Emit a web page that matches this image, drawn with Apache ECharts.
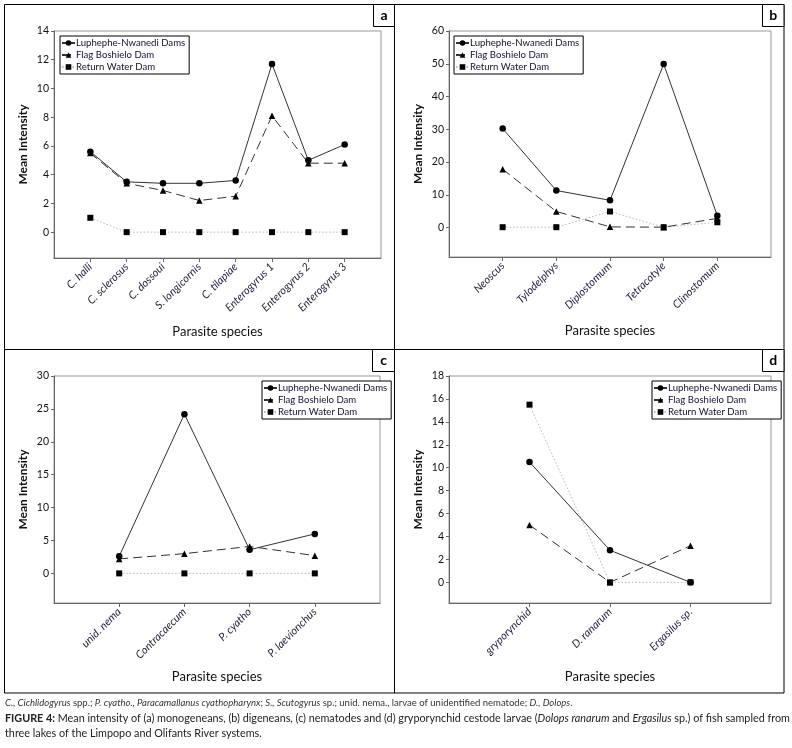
<!DOCTYPE html>
<html>
<head>
<meta charset="utf-8">
<script src="https://cdn.jsdelivr.net/npm/echarts@6/dist/echarts.min.js"></script>
<style>
html,body{margin:0;padding:0;background:#fff;}
#chart{width:792px;height:748px;}
</style>
</head>
<body>
<div id="chart"></div>
<script>
// ---- data ----
const seriesNames = ['Luphephe-Nwanedi Dams', 'Flag Boshielo Dam', 'Return Water Dam'];

const catsA = ['C. halli', 'C. sclerosus', 'C. dossoui', 'S. longicornis', 'C. tilapiae', 'Enterogyrus 1', 'Enterogyrus 2', 'Enterogyrus 3'];
const lupA  = [5.6, 3.5, 3.4, 3.4, 3.6, 11.7, 5.0, 6.1];
const flagA = [5.5, 3.4, 2.9, 2.2, 2.5, 8.1, 4.8, 4.8];
const retA  = [1.0, 0, 0, 0, 0, 0, 0, 0];
const ticksA = [0, 2, 4, 6, 8, 10, 12, 14];

const catsB = ['Neoscus', 'Tylodelphys', 'Diplostomum', 'Tetracotyle', 'Clinostomum'];
const lupB  = [30.2, 11.3, 8.3, 49.9, 3.6];
const flagB = [17.8, 4.9, 0.2, 0.1, 2.8];
const retB  = [0.1, 0.1, 4.9, 0.1, 1.6];
const ticksB = [0, 10, 20, 30, 40, 50, 60];

const catsC = ['unid. nema', 'Contracaecum', 'P. cyatho', 'P. laevionchus'];
const lupC  = [2.6, 24.2, 3.6, 6.0];
const flagC = [2.2, 3.0, 4.1, 2.7];
const retC  = [0, 0, 0, 0];
const ticksC = [0, 5, 10, 15, 20, 25, 30];

const catsD = ['gryporynchid', 'D. ranarum', 'Ergasilus sp.'];
const lupD  = [10.5, 2.8, 0];
const flagD = [5.0, 0, 3.2];
const retD  = [15.5, 0, 0];
const ticksD = [0, 2, 4, 6, 8, 10, 12, 14, 16, 18];

// ---- layout ----
const FONT = 'Lato, "Open Sans", sans-serif';
const panels = [
  {cats: catsA, vals: [lupA, flagA, retA], ticks: ticksA, ymin: -1.8, ymax: 14,
   grid: {left: 54, top: 31, width: 327, height: 227}, legend: {left: 60, top: 36}},
  {cats: catsB, vals: [lupB, flagB, retB], ticks: ticksB, ymin: -9, ymax: 60,
   grid: {left: 449, top: 31, width: 322, height: 226}, legend: {left: 454, top: 36}},
  {cats: catsC, vals: [lupC, flagC, retC], ticks: ticksC, ymin: -4.5, ymax: 30,
   grid: {left: 54, top: 376, width: 326, height: 227}, legend: {left: 262, top: 381}},
  {cats: catsD, vals: [lupD, flagD, retD], ticks: ticksD, ymin: -1.8, ymax: 18,
   grid: {left: 449, top: 376, width: 322, height: 227}, legend: {left: 652, top: 381}}
];

const seriesStyle = [
  {symbol: 'circle', symbolSize: 6.5, line: {color: '#333', width: 1, type: 'solid'}},
  {symbol: 'triangle', symbolSize: 6.5, line: {color: '#333', width: 1, type: [9, 5]}},
  {symbol: 'rect', symbolSize: 6, line: {color: '#b8b8b8', width: 1, type: [1.5, 2]}}
];

const grids = [], xAxes = [], yAxes = [], series = [], legends = [];
panels.forEach((p, k) => {
  grids.push(Object.assign({show: true, borderColor: '#999', borderWidth: 1, backgroundColor: 'transparent'}, p.grid));
  const idx = p.cats.map((c, i) => i);
  xAxes.push({
    type: 'value', gridIndex: k, min: -1, max: p.cats.length,
    name: 'Parasite species', nameLocation: 'middle', nameGap: 67,
    nameTextStyle: {fontFamily: FONT, fontSize: 13, color: '#111'},
    axisLine: {show: true, onZero: false, lineStyle: {color: '#666', width: 1}},
    axisTick: {show: true, length: 4, customValues: idx, lineStyle: {color: '#666'}},
    splitLine: {show: false},
    axisLabel: {
      customValues: idx, rotate: 45, margin: 7,
      fontFamily: FONT, fontSize: 11, fontStyle: 'italic', color: '#1d1d3a',
      formatter: v => p.cats[Math.round(v)] || ''
    }
  });
  yAxes.push({
    type: 'value', gridIndex: k, min: p.ymin, max: p.ymax,
    name: 'Mean Intensity', nameLocation: 'middle', nameGap: 25, nameRotate: 90,
    nameTextStyle: {fontFamily: FONT, fontSize: 12, fontWeight: 'bold', color: '#111'},
    axisLine: {show: true, onZero: false, lineStyle: {color: '#666', width: 1}},
    axisTick: {show: true, length: 3, inside: false, customValues: p.ticks, lineStyle: {color: '#666'}},
    splitLine: {show: false},
    axisLabel: {customValues: p.ticks, margin: 5, fontFamily: FONT, fontSize: 10.5, color: '#111'}
  });
  p.vals.forEach((vals, s) => {
    const st = seriesStyle[s];
    series.push({
      type: 'line', name: seriesNames[s], xAxisIndex: k, yAxisIndex: k,
      data: vals.map((v, i) => [i, v]),
      symbol: st.symbol, symbolSize: st.symbolSize, showSymbol: true,
      lineStyle: st.line, itemStyle: {color: '#000', borderWidth: 0},
      z: 5 - s, animation: false, emphasis: {disabled: true}
    });
  });
  legends.push({
    left: p.legend.left, top: p.legend.top, orient: 'vertical',
    data: seriesNames, selectedMode: false,
    backgroundColor: '#fff', borderColor: '#000', borderWidth: 1, borderRadius: 0,
    padding: [2, 4, 2, 1], itemGap: 2, itemWidth: 13, itemHeight: 7,
    textStyle: {fontFamily: FONT, fontSize: 9.6, color: '#111133', padding: [0, 0, 0, -4]}
  });
});

const letterBox = (x, y, w, h, t) => ([
  {type: 'rect', shape: {x: x, y: y, width: w, height: h}, style: {fill: '#fff', stroke: '#000', lineWidth: 1}, z: 100},
  {type: 'text', x: x + w / 2, y: y + h / 2, style: {text: t, fontFamily: FONT, fontSize: 14, fontWeight: 'bold', fill: '#000', align: 'center', verticalAlign: 'middle'}, z: 101}
]);

const capStyle = {
  n: {fontFamily: FONT, fontSize: 9.5, fill: '#333'},
  i: {fontFamily: FONT, fontSize: 9.5, fontStyle: 'italic', fill: '#333'}
};
const capStyle2 = {
  n: {fontFamily: FONT, fontSize: 10.8, fill: '#222'},
  i: {fontFamily: FONT, fontSize: 10.8, fontStyle: 'italic', fill: '#222'},
  b: {fontFamily: FONT, fontSize: 10.8, fontWeight: 'bold', fill: '#222'}
};

const graphic = [
  {type: 'rect', shape: {x: 4.5, y: 4.5, width: 779.5, height: 688.5}, style: {fill: 'none', stroke: '#000', lineWidth: 1}, z: 99},
  {type: 'line', shape: {x1: 394.5, y1: 4.5, x2: 394.5, y2: 693}, style: {stroke: '#000', lineWidth: 1}, z: 99},
  {type: 'line', shape: {x1: 4.5, y1: 349.5, x2: 784, y2: 349.5}, style: {stroke: '#000', lineWidth: 1}, z: 99},
  ...letterBox(373.5, 4.5, 21, 22, 'a'),
  ...letterBox(762.5, 4.5, 21.5, 22, 'b'),
  ...letterBox(372.5, 349.5, 22, 22, 'c'),
  ...letterBox(762.5, 349.5, 21.5, 22, 'd'),
  {type: 'text', x: 5, y: 703, style: {
    text: '{i|C., Cichlidogyrus}{n| spp.; }{i|P. cyatho., Paracamallanus cyathopharynx}{n|; }{i|S., Scutogyrus}{n| sp.; unid. nema., larvae of unidentified nematode; }{i|D., Dolops}{n|.}',
    rich: capStyle, verticalAlign: 'middle', fontFamily: FONT, fontSize: 9.5}},
  {type: 'text', x: 5, y: 719, style: {
    text: '{b|FIGURE 4:}{n| Mean intensity of (a) monogeneans, (b) digeneans, (c) nematodes and (d) gryporynchid cestode larvae (}{i|Dolops ranarum}{n| and }{i|Ergasilus}{n| sp.) of fish sampled from}',
    rich: capStyle2, verticalAlign: 'middle', fontFamily: FONT, fontSize: 10.8}},
  {type: 'text', x: 5, y: 734, style: {
    text: '{n|three lakes of the Limpopo and Olifants River systems.}',
    rich: capStyle2, verticalAlign: 'middle', fontFamily: FONT, fontSize: 10.8}}
];

const chart = echarts.init(document.getElementById('chart'), null, {renderer: 'canvas'});
chart.setOption({
  animation: false,
  backgroundColor: '#fff',
  textStyle: {fontFamily: FONT},
  grid: grids, xAxis: xAxes, yAxis: yAxes, series: series, legend: legends,
  graphic: graphic
});
</script>
</body>
</html>
